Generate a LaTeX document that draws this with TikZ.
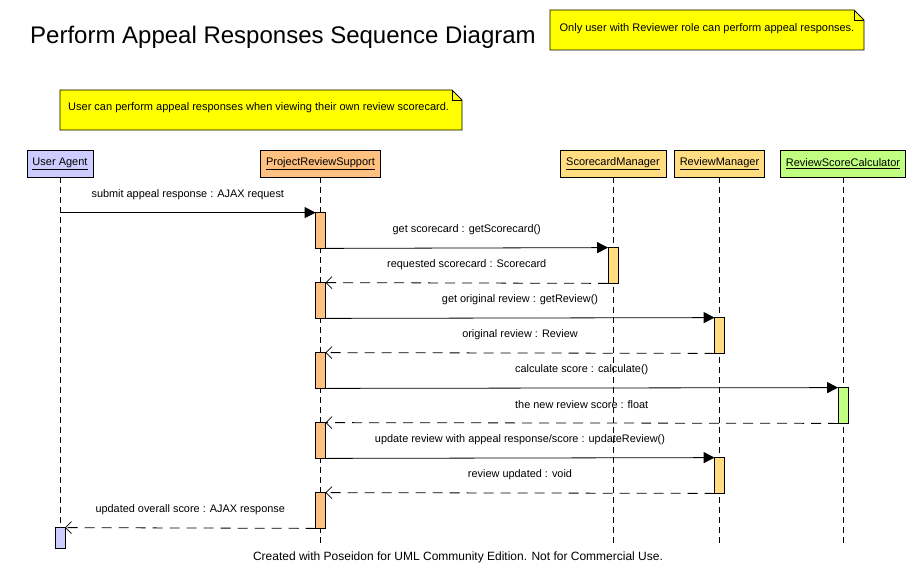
\documentclass[tikz,border=0pt]{standalone}
\usepackage{fontspec}
\setmainfont{Liberation Sans}
\usetikzlibrary{arrows.meta}
\definecolor{uac}{HTML}{CCCCFF}
\definecolor{prsc}{HTML}{FFC080}
\definecolor{mgrc}{HTML}{FFDD80}
\definecolor{calcc}{HTML}{C0FF80}
\definecolor{notec}{HTML}{FFFF00}
\begin{document}
\begin{tikzpicture}[x=1pt,y=-1pt,
  hdr/.style={draw, line width=0.8pt, minimum height=27pt, inner sep=0pt, font=\fontsize{11}{13}\selectfont},
  act/.style={draw, line width=0.8pt, minimum width=9pt, minimum height=35pt, inner sep=0pt},
  life/.style={dash pattern=on 6pt off 4pt, line width=0.8pt},
  call/.style={-{Triangle[length=11pt,width=11pt]}, line width=0.8pt},
  ret/.style={-{Straight Barb[length=6pt,width=12pt]}, dash pattern=on 10pt off 7pt, line width=0.8pt},
  lbl/.style={font=\fontsize{10.9}{13}\selectfont, inner sep=0pt},
  notetext/.style={font=\fontsize{11}{13}\selectfont, inner sep=0pt},
  notebox/.style={fill=notec, draw, line width=0.8pt},
  fold/.style={draw, line width=0.8pt}
  ]
\useasboundingbox (0,0) rectangle (917,583);

% title
\node[font=\fontsize{24}{28}\selectfont, anchor=west, inner sep=0pt] (title) at (30,37) {Perform Appeal Responses Sequence Diagram};

% note 1
\path[notebox] (550,10) -- (854,10) -- (864,20) -- (864,50) -- (550,50) -- cycle;
\path[fold] (854,10) -- (854,20) -- (864,20);
\node[notetext] (n1) at (707,29) {Only user with Reviewer role can perform appeal responses.};

% note 2
\path[notebox] (60,90) -- (452,90) -- (462,100) -- (462,130) -- (60,130) -- cycle;
\path[fold] (452,90) -- (452,100) -- (462,100);
\node[notetext, anchor=west] (n2) at (68,108) {User can perform appeal responses when viewing their own review scorecard.};

% headers
\node[hdr, fill=uac,   minimum width=66pt]  (ua)  at (60,163.5)  {\underline{User Agent}};
\node[hdr, fill=prsc,  minimum width=120pt] (prs) at (320.5,163.5) {\underline{ProjectReviewSupport}};
\node[hdr, fill=mgrc,  minimum width=106pt] (sm)  at (613,163.5) {\underline{ScorecardManager}};
\node[hdr, fill=mgrc,  minimum width=90pt]  (rm)  at (719.5,163.5) {\underline{ReviewManager}};
\node[hdr, fill=calcc, minimum width=125pt] (rsc) at (843,163.5) {\underline{ReviewScoreCalculator}};

\coordinate (lend) at (0,545);

% activations (positions)
\path
  node[act, fill=prsc] (a1) at (320.5,230.5) {}
  node[act, fill=mgrc] (s1) at (613,265.5) {}
  node[act, fill=prsc] (a2) at (320.5,300.5) {}
  node[act, fill=mgrc] (r1) at (719.5,335.5) {}
  node[act, fill=prsc] (a3) at (320.5,370.5) {}
  node[act, fill=calcc] (c1) at (843,405.5) {}
  node[act, fill=prsc] (a4) at (320.5,440.5) {}
  node[act, fill=mgrc] (r2) at (719.5,475.5) {}
  node[act, fill=prsc] (a5) at (320.5,510.5) {}
  node[act, fill=uac, minimum height=20pt] (u1) at (60,538) {};

% lifelines
\draw[life] (ua.south) -- (u1.north);
\draw[life] (prs.south) -- (prs |- lend);
\draw[life] (sm.south) -- (sm |- lend);
\draw[life] (rm.south) -- (rm |- lend);
\draw[life] (rsc.south) -- (rsc |- lend);

% activations drawn on top of the lifelines
\foreach \n/\c in {a1/prsc,s1/mgrc,a2/prsc,r1/mgrc,a3/prsc,c1/calcc,a4/prsc,r2/mgrc,a5/prsc,u1/uac}{
  \path[fill=\c, draw, line width=0.8pt] (\n.north west) rectangle (\n.south east);
}

% messages
\draw[call] (ua |- a1.north) -- node[lbl, yshift=18pt] {submit appeal response : AJAX request} (a1.north west);
\draw[call] (a1.south east) -- node[lbl, yshift=18pt] {get scorecard : getScorecard()} (s1.north west);
\draw[ret] (s1.south west) -- node[lbl, yshift=18pt] {requested scorecard : Scorecard} (a2.north east);
\draw[call] (a2.south east) -- node[lbl, yshift=18pt] {get original review : getReview()} (r1.north west);
\draw[ret] (r1.south west) -- node[lbl, yshift=18pt] {original review : Review} (a3.north east);
\draw[call] (a3.south east) -- node[lbl, yshift=18pt] {calculate score : calculate()} (c1.north west);
\draw[ret] (c1.south west) -- node[lbl, yshift=18pt] {the new review score : float} (a4.north east);
\draw[call] (a4.south east) -- node[lbl, yshift=18pt] {update review with appeal response/score : updateReview()} (r2.north west);
\draw[ret] (r2.south west) -- node[lbl, yshift=18pt] {review updated : void} (a5.north east);
\draw[ret] (a5.south west) -- node[lbl, yshift=18pt] {updated overall score : AJAX response} (u1.north east);

% footer
\node[font=\fontsize{12}{14}\selectfont, inner sep=0pt] (foot) at (458,557) {Created with Poseidon for UML Community Edition. Not for Commercial Use.};
\end{tikzpicture}
\end{document}
